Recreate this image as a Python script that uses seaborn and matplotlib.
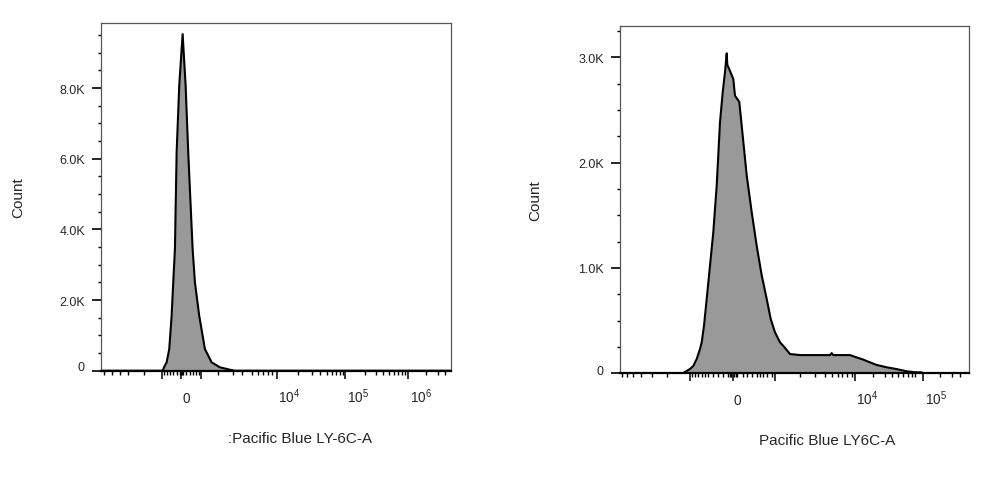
import numpy as np
import matplotlib
matplotlib.use('Agg')
import matplotlib.pyplot as plt
import matplotlib.transforms as mtransforms
import seaborn as sns

sns.set_style('white')
plt.rcParams['font.family'] = ['Liberation Sans', 'DejaVu Sans']
plt.rcParams['mathtext.default'] = 'regular'

# left histogram, x in display channels (biexponential axis), y in events
left_channel = [0, 61.7, 62.7, 65.4, 68.0, 70.4, 72.0, 73.7, 75.4, 78.0, 81.4, 84.4,
                87.0, 91.4, 93.7, 98.0, 103.7, 110.4, 118.7, 128.7, 131.4, 133.0, 350]
left_count = [0, 0, 96, 238, 614, 1556, 2501, 3444, 6180, 8065, 9527, 8065,
              6180, 3444, 2501, 1556, 614, 238, 96, 28, 15, 0, 0]

# right histogram
right_channel = [0, 62.7, 70.0, 73.3, 76.7, 80.0, 81.7, 84.0, 86.7, 90.0, 93.3, 96.7,
                 100.0, 102.7, 105.0, 106.7, 107.3, 110.0, 113.3, 115.0, 117.3, 119.3,
                 121.7, 126.7, 131.7, 136.7, 141.7, 146.7, 150.7, 155.0, 160.0, 163.3,
                 170.0, 180.0, 210.0, 211.7, 213.3, 230.0, 236.7, 243.3, 250.0, 256.7,
                 266.7, 276.7, 286.7, 296.0, 301.7, 303.3, 349]
right_count = [0, 0, 41, 70, 136, 230, 294, 452, 706, 1022, 1339, 1781,
               2383, 2668, 2858, 3038, 2930, 2870, 2794, 2635, 2604, 2576,
               2350, 1880, 1530, 1210, 930, 706, 516, 389, 294, 260,
               183, 173, 173, 192, 173, 173, 151, 130, 104, 79,
               57, 40, 19, 10, 9, 0, 0]

# x axis ticks (display channels) and labels
left_major = [60.4, 80.2, 99.7, 175.4, 244.4, 307.0]
left_major_labels = ['', '0', '', '$10^4$', '$10^5$', '$10^6$']
left_minor = [3.0, 10.4, 18.7, 27.0, 43.0,
              63.0, 65.4, 68.7, 72.0, 75.4, 78.8, 79.5, 80.9, 81.6,
              85.0, 88.4, 91.7, 95.0, 97.4,
              116.7, 132.0, 140.4, 150.4, 157.0, 162.0, 167.0, 170.4,
              196.7, 210.4, 218.7, 225.4, 230.5, 235.0, 238.5, 241.5,
              263.5, 275.0, 282.1, 288.2, 293.1, 297.3, 300.9, 304.1,
              325.4, 336.7, 344.4]

right_major = [70.0, 112.5, 155.0, 235.0, 303.3]
right_major_labels = ['', '0', '', '$10^4$', '$10^5$']
right_minor = [1.7, 6.7, 13.3, 20.7, 31.7, 46.7,
               72.0, 75.0, 78.3, 81.7, 85.0, 88.3, 93.3, 98.3, 103.3,
               108.0, 109.5, 111.0, 114.0, 115.5, 117.0,
               123.3, 126.7, 131.7, 136.7, 140.0, 143.3, 146.7, 151.7,
               180.0, 195.0, 205.0, 211.7, 218.3, 221.7, 226.7, 231.7,
               253.3, 265.0, 271.7, 278.3, 283.3, 288.3, 291.7, 295.0,
               320.0, 331.7, 340.0]

left_yticks = [0, 2000, 4000, 6000, 8000]
left_ylabels = ['0', '2.0K', '4.0K', '6.0K', '8.0K']
right_yticks = [0, 1000, 2000, 3000]
right_ylabels = ['0', '1.0K', '2.0K', '3.0K']

fig = plt.figure(figsize=(10, 4.81), dpi=100)
ax1 = fig.add_axes([0.1013, 0.2272, 0.3497, 0.7229])
ax2 = fig.add_axes([0.620, 0.2218, 0.349, 0.7227])


def draw_panel(ax, ch, cnt, xmax, ymax, xmaj, xlab, xmin_ticks, yt, ylab, ystep,
               xlabel, xlab_pos, ylab_pos, zero_shift):
    ax.fill_between(ch, cnt, 0, color='#999999', lw=0, zorder=2)
    sns.lineplot(x=ch, y=cnt, ax=ax, color='black', lw=1.5, zorder=3, sort=False)
    ax.set_xlim(0, xmax)
    ax.set_ylim(0, ymax)

    ax.set_xticks(xmaj)
    ax.set_xticklabels(xlab)
    ax.set_xticks(xmin_ticks, minor=True)
    ax.set_yticks(yt)
    ax.set_yticklabels(ylab)
    ax.set_yticks([v for v in np.arange(0, ymax, ystep) if v not in yt], minor=True)

    ax.tick_params(axis='x', which='major', direction='out', length=5.5, width=1.1,
                   color='black', labelsize=9.8, pad=16.8, bottom=True)
    ax.tick_params(axis='x', which='minor', direction='out', length=2.6, width=1.0,
                   color='black', bottom=True)
    ax.tick_params(axis='y', which='major', direction='out', length=6.3, width=1.2,
                   color='black', labelsize=9, pad=5.5, left=True)
    ax.tick_params(axis='y', which='minor', direction='out', length=2.0, width=1.0,
                   color='black', left=True)

    off = mtransforms.ScaledTranslation(1.5 / 100, 0, fig.dpi_scale_trans)
    for lbl in ax.get_xticklabels():
        lbl.set_ha('left')
        lbl.set_va('baseline')
        lbl.set_transform(lbl.get_transform() + off)
    up = mtransforms.ScaledTranslation(0, zero_shift / 100, fig.dpi_scale_trans)
    zl = ax.get_yticklabels()[0]
    zl.set_transform(zl.get_transform() + up)

    for side in ['top', 'right', 'left']:
        ax.spines[side].set_color('#555555')
        ax.spines[side].set_linewidth(0.9)
    ax.spines['bottom'].set_color('black')
    ax.spines['bottom'].set_linewidth(1.6)

    ax.set_xlabel(xlabel, fontsize=11, va='baseline')
    ax.xaxis.set_label_coords(*xlab_pos)
    ax.set_ylabel('Count', fontsize=11, va='center')
    ax.yaxis.set_label_coords(*ylab_pos)


draw_panel(ax1, left_channel, left_count, 350, 9840, left_major, left_major_labels,
           left_minor, left_yticks, left_ylabels, 500,
           ':Pacific Blue LY-6C-A', (0.569, -0.204), (-0.238, 0.502), 5)
draw_panel(ax2, right_channel, right_count, 349, 3300, right_major, right_major_labels,
           right_minor, right_yticks, right_ylabels, 250,
           'Pacific Blue LY6C-A', (0.593, -0.203), (-0.2436, 0.501), 4)

fig.savefig('out.png', dpi=100)
